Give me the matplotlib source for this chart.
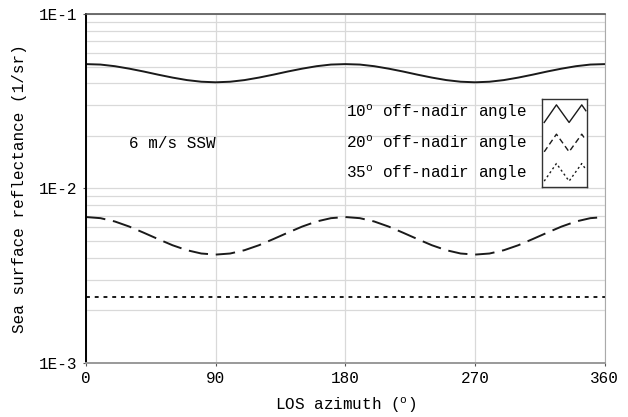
import matplotlib
matplotlib.use("Agg")
import matplotlib.pyplot as plt
import numpy as np

plt.rcParams['font.family'] = ['Liberation Mono', 'DejaVu Sans Mono']
plt.rcParams['mathtext.fontset'] = 'custom'
plt.rcParams['mathtext.rm'] = 'Liberation Mono'

# LOS azimuth (deg), every 10 degrees
azimuth = list(range(0, 361, 10))

# sea surface reflectance (1/sr)
refl_10 = [0.0516, 0.0513, 0.0502, 0.0486, 0.0468, 0.0449, 0.0432, 0.0418, 0.0409, 0.0406,
           0.0409, 0.0418, 0.0432, 0.0449, 0.0468, 0.0486, 0.0502, 0.0513, 0.0516,
           0.0513, 0.0502, 0.0486, 0.0468, 0.0449, 0.0432, 0.0418, 0.0409, 0.0406,
           0.0409, 0.0418, 0.0432, 0.0449, 0.0468, 0.0486, 0.0502, 0.0513, 0.0516]
refl_20 = [0.00686, 0.00676, 0.00647, 0.00605, 0.00558, 0.00513, 0.00473, 0.00443, 0.00424, 0.00418,
           0.00424, 0.00443, 0.00473, 0.00513, 0.00558, 0.00605, 0.00647, 0.00676, 0.00686,
           0.00676, 0.00647, 0.00605, 0.00558, 0.00513, 0.00473, 0.00443, 0.00424, 0.00418,
           0.00424, 0.00443, 0.00473, 0.00513, 0.00558, 0.00605, 0.00647, 0.00676, 0.00686]
refl_35 = [0.00239] * len(azimuth)

xticks = [0, 90, 180, 270, 360]
yticks = [1e-3, 1e-2, 1e-1]
ytick_labels = ["1E-3", "1E-2", "1E-1"]
legend_labels = ["10$^\\mathrm{o}$ off-nadir angle",
                 "20$^\\mathrm{o}$ off-nadir angle",
                 "35$^\\mathrm{o}$ off-nadir angle"]

fig = plt.figure(figsize=(6.28, 4.17), dpi=100)
ax = fig.add_axes([0.137, 0.1295, 0.826, 0.837])

line_color = "#1a1a1a"
ax.plot(azimuth, refl_10, color=line_color, linewidth=1.4, linestyle='-')
ax.plot(azimuth, refl_20, color=line_color, linewidth=1.4, linestyle=(0, (10, 4)))
ax.plot(azimuth, refl_35, color=line_color, linewidth=1.4, linestyle=(0, (2, 2.5)))

ax.set_yscale('log')
ax.set_xlim(0, 360)
ax.set_ylim(1e-3, 1e-1)
ax.set_xticks(xticks)
ax.set_xticklabels([str(t) for t in xticks])
ax.set_yticks(yticks)
ax.set_yticklabels(ytick_labels)
ax.yaxis.set_minor_formatter(matplotlib.ticker.NullFormatter())

# grid
ax.grid(True, which='both', axis='y', color="#d9d9d9", linewidth=0.9)
ax.grid(True, which='major', axis='x', color="#d9d9d9", linewidth=0.9)
ax.set_axisbelow(True)
ax.tick_params(axis='y', which='minor', length=0)
ax.tick_params(axis='both', which='major', length=2.5, width=0.8, color="#555555",
               labelsize=11.5)
ax.tick_params(axis='y', which='major', pad=4)
ax.tick_params(axis='x', which='major', pad=3)

ax.spines['top'].set_color("#555555")
ax.spines['top'].set_linewidth(1.2)
ax.spines['right'].set_color("#aaaaaa")
ax.spines['bottom'].set_color("#999999")
ax.spines['bottom'].set_linewidth(1.4)
ax.spines['left'].set_color("black")
ax.spines['left'].set_linewidth(1.4)

ax.set_xlabel("LOS azimuth ($^\\mathrm{o}$)", fontsize=11.5, labelpad=7)
ax.set_ylabel("Sea surface reflectance (1/sr)", fontsize=11.5, labelpad=8)

ax.text(0.083, 0.628, "6 m/s SSW", transform=ax.transAxes, fontsize=11.5,
        va='center', ha='left')

rows_y = [0.719, 0.630, 0.544]
for lbl, yy in zip(legend_labels, rows_y):
    ax.text(0.501, yy, lbl, transform=ax.transAxes, fontsize=11.5, va='center', ha='left')

# legend glyph box
lax = fig.add_axes([0.863, 0.5516, 0.072, 0.211])
lax.set_xlim(0, 1)
lax.set_ylim(0, 3)
lax.set_xticks([])
lax.set_yticks([])
for s in lax.spines.values():
    s.set_color("#333333")
    s.set_linewidth(1.0)
zx = [0.05, 0.32, 0.6, 0.88, 0.97]
styles = ['-', (0, (4, 2.5)), (0, (1.5, 2))]
for i, st in enumerate(styles):
    base = 2 - i
    zy = [base + 0.2, base + 0.8, base + 0.2, base + 0.8, base + 0.6]
    lax.plot(zx, zy, color=line_color, linewidth=1.0, linestyle=st)

fig.savefig("out.png", dpi=100)
